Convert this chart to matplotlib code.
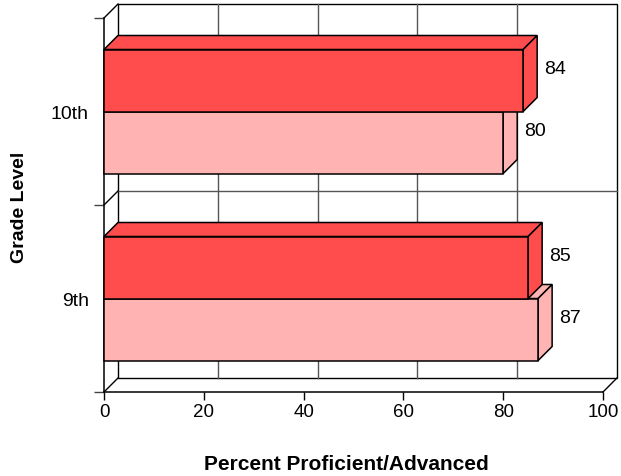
import matplotlib
matplotlib.use("Agg")
import matplotlib.pyplot as plt
from matplotlib.patches import Polygon, Rectangle

# data
grades = ["9th", "10th"]
dark_vals = [85, 84]
light_vals = [87, 80]
xticks = [0, 20, 40, 60, 80, 100]

dark_col = "#ff4d4d"
light_col = "#ffb3b3"

plt.rcParams['font.family'] = ['Liberation Sans', 'DejaVu Sans']

fig = plt.figure(figsize=(6.21, 4.77), dpi=100)
ax = fig.add_axes([104/621, 84/477, 499/621, 374/477])
ax.set_xlim(0, 100)
ax.set_ylim(-0.5, 1.5)

# depth offset (14 px) in data units
px_x = 100 / 499.0
px_y = 2.0 / 374.0
dx = 14 * px_x
dy = 14 * px_y
bh = 62 * px_y

# back wall
ax.add_patch(Rectangle((dx, -0.5 + dy), 100, 2, fill=False, ec="black", lw=1.0,
                       clip_on=False, zorder=1))
for t in xticks[1:-1]:
    ax.plot([t + dx, t + dx], [-0.5 + dy, 1.5 + dy], color="#555555", lw=1.0,
            clip_on=False, zorder=1)
ax.plot([dx, 100 + dx], [0.5 + dy, 0.5 + dy], color="#555555", lw=1.0,
        clip_on=False, zorder=1)
# side / floor edges
for y0 in [-0.5, 0.5, 1.5]:
    ax.plot([0, dx], [y0, y0 + dy], color="black", lw=1.0, clip_on=False, zorder=1)
ax.plot([100, 100 + dx], [-0.5, -0.5 + dy], color="black", lw=1.0, clip_on=False, zorder=1)


def bar3d(x, y0, h, col, z):
    ec = "black"
    ax.add_patch(Polygon([(0, y0 + h), (x, y0 + h), (x + dx, y0 + h + dy), (dx, y0 + h + dy)],
                         closed=True, fc=col, ec=ec, lw=1.1, zorder=z, clip_on=False))
    ax.add_patch(Polygon([(x, y0), (x + dx, y0 + dy), (x + dx, y0 + h + dy), (x, y0 + h)],
                         closed=True, fc=col, ec=ec, lw=1.1, zorder=z, clip_on=False))
    ax.add_patch(Rectangle((0, y0), x, h, fc=col, ec=ec, lw=1.1, zorder=z, clip_on=False))


z = 3
for i in range(len(grades)):
    bar3d(light_vals[i], i - bh, bh, light_col, z)
    ax.text(light_vals[i] + dx + 7 * px_x, i - bh / 2 + 12 * px_y, str(light_vals[i]),
            fontsize=14, va="center", ha="left", zorder=10)
    z += 1
    bar3d(dark_vals[i], i, bh, dark_col, z)
    ax.text(dark_vals[i] + dx + 7 * px_x, i + bh / 2 + 12 * px_y, str(dark_vals[i]),
            fontsize=14, va="center", ha="left", zorder=10)
    z += 1

for s in ["top", "right"]:
    ax.spines[s].set_visible(False)
ax.spines["left"].set_linewidth(1.1)
ax.spines["bottom"].set_linewidth(1.1)
ax.spines["left"].set_zorder(2)

ax.set_xticks(xticks)
ax.set_xticklabels([str(t) for t in xticks], fontsize=13.5)
ax.tick_params(axis="x", length=6, width=1.0, pad=2)
ax.set_yticks([-0.5, 0.5, 1.5])
ax.set_yticklabels([])
ax.tick_params(axis="y", which="major", length=7, width=1.0, color="#444444")
ax.set_yticks([0, 1], minor=True)
ax.set_yticklabels(grades, minor=True, fontsize=14)
ax.tick_params(axis="y", which="minor", length=0, pad=11)

fig.text(346/621, 1 - 465/477, "Percent Proficient/Advanced", fontsize=15,
         fontweight="bold", ha="center", va="center")
fig.text(20/621, 1 - 207/477, "Grade Level", fontsize=14, fontweight="bold",
         ha="center", va="center", rotation=90)

fig.savefig("out.png", dpi=100)
